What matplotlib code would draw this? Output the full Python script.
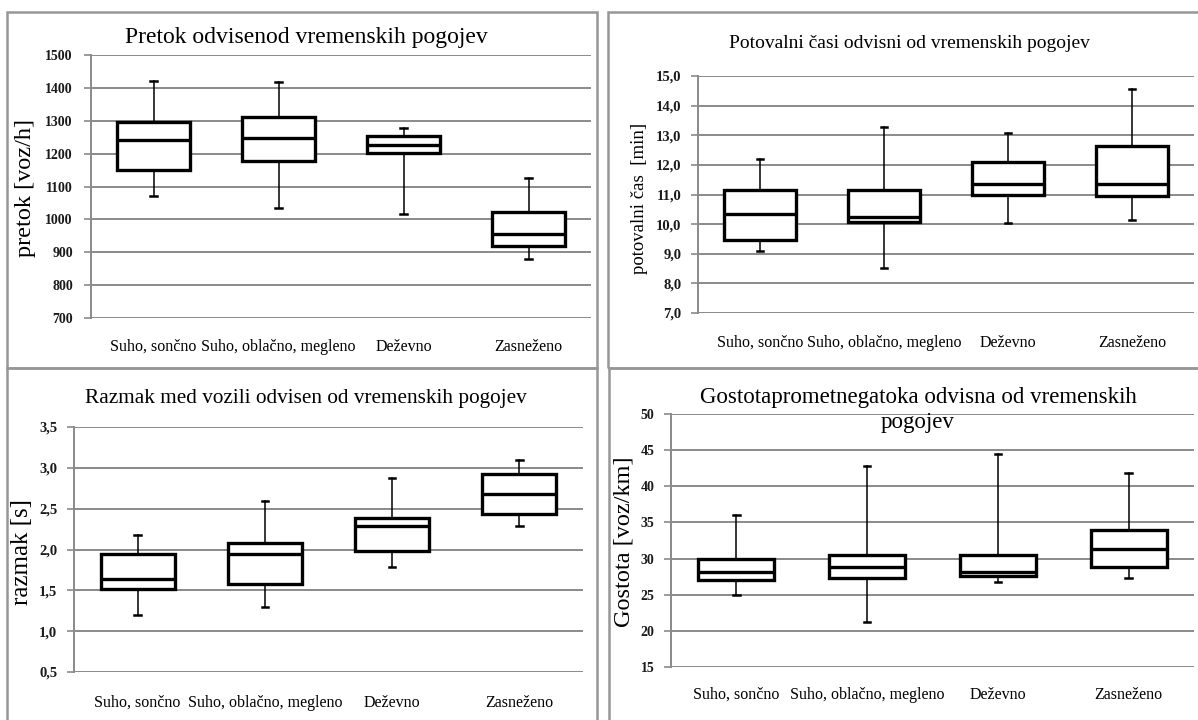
import matplotlib
matplotlib.use("Agg")
import matplotlib.pyplot as plt
from matplotlib.patches import Rectangle

plt.rcParams['font.family'] = ['Liberation Serif', 'DejaVu Serif']

W, H = 1198, 720

categories = ["Suho, sončno", "Suho, oblačno, megleno", "Deževno", "Zasneženo"]

# Pretok [voz/h]
flow_low = [1071, 1034, 1016, 879]
flow_q1 = [1151, 1179, 1201, 920]
flow_med = [1240, 1249, 1227, 955]
flow_q3 = [1296, 1311, 1255, 1021]
flow_high = [1421, 1417, 1279, 1127]
flow_ticks = [700, 800, 900, 1000, 1100, 1200, 1300, 1400, 1500]
flow_ticklabels = ["700", "800", "900", "1000", "1100", "1200", "1300", "1400", "1500"]

# Potovalni čas [min]
time_low = [9.08, 8.52, 10.03, 10.13]
time_q1 = [9.47, 10.06, 10.99, 10.96]
time_med = [10.34, 10.24, 11.35, 11.35]
time_q3 = [11.16, 11.16, 12.09, 12.65]
time_high = [12.20, 13.29, 13.07, 14.55]
time_ticks = [7, 8, 9, 10, 11, 12, 13, 14, 15]
time_ticklabels = ["7,0", "8,0", "9,0", "10,0", "11,0", "12,0", "13,0", "14,0", "15,0"]

# Razmak [s]
gap_low = [1.20, 1.29, 1.79, 2.29]
gap_q1 = [1.52, 1.58, 1.98, 2.43]
gap_med = [1.64, 1.94, 2.29, 2.68]
gap_q3 = [1.94, 2.08, 2.38, 2.93]
gap_high = [2.18, 2.59, 2.88, 3.09]
gap_ticks = [0.5, 1.0, 1.5, 2.0, 2.5, 3.0, 3.5]
gap_ticklabels = ["0,5", "1,0", "1,5", "2,0", "2,5", "3,0", "3,5"]

# Gostota [voz/km]
dens_low = [25.0, 21.2, 26.8, 27.3]
dens_q1 = [27.0, 27.3, 27.6, 28.9]
dens_med = [28.2, 28.8, 28.1, 31.3]
dens_q3 = [30.0, 30.5, 30.5, 34.0]
dens_high = [36.0, 42.8, 44.4, 41.8]
dens_ticks = [15, 20, 25, 30, 35, 40, 45, 50]
dens_ticklabels = ["15", "20", "25", "30", "35", "40", "45", "50"]

GRID = "#8a8a8a"
BORDER = "#979797"

fig = plt.figure(figsize=(W / 100, H / 100), dpi=100)


def fx(x):
    return x / W


def fy(y):
    return 1 - y / H


def panel_border(x0, y0, x1, y1):
    fig.patches.append(Rectangle((fx(x0), fy(y1)), fx(x1) - fx(x0), fy(y0) - fy(y1),
                                 transform=fig.transFigure, fill=False,
                                 edgecolor=BORDER, lw=1.8))


def box_axes(rect, low, q1, med, q3, high, ticks, ticklabels, ylabel, ylabel_size,
             ylabel_x, ylabel_y, tick_size, cat_y, cat_size, tick_pad):
    x0, y0, x1, y1 = rect
    ax = fig.add_axes([fx(x0), fy(y1), fx(x1) - fx(x0), fy(y0) - fy(y1)])
    stats = []
    for lo, a, m, b, hi in zip(low, q1, med, q3, high):
        stats.append(dict(whislo=lo, q1=a, med=m, q3=b, whishi=hi, fliers=[]))
    ax.bxp(stats, positions=[1, 2, 3, 4], widths=0.58, capwidths=0.05,
           showfliers=False, patch_artist=True,
           boxprops=dict(facecolor="white", edgecolor="black", linewidth=2.4),
           medianprops=dict(color="black", linewidth=2.4),
           whiskerprops=dict(color="black", linewidth=1.1),
           capprops=dict(color="black", linewidth=1.8), zorder=3)
    ax.set_xlim(0.5, 4.5)
    ax.set_ylim(ticks[0], ticks[-1])
    ax.set_yticks(ticks)
    ax.set_yticklabels(ticklabels, fontsize=tick_size, fontweight="bold")
    ax.set_xticks([])
    ax.grid(axis="y", color=GRID, lw=1.4, zorder=0)
    ax.set_axisbelow(True)
    for s in ("top", "right", "bottom"):
        ax.spines[s].set_visible(False)
    ax.spines["left"].set_color(GRID)
    ax.spines["left"].set_linewidth(1.4)
    ax.tick_params(axis="y", length=5, width=1.2, color=GRID, pad=tick_pad,
                   labelcolor="#1a1a1a")
    # category labels under each box
    for i, c in enumerate(categories):
        xd = x0 + (x1 - x0) * (i + 0.5) / 4
        fig.text(fx(xd), fy(cat_y), c, ha="center", va="center", fontsize=cat_size)
    fig.text(fx(ylabel_x), fy(ylabel_y), ylabel, rotation=90, ha="center", va="center",
             fontsize=ylabel_size)
    return ax


# panel frames
panel_border(7, 12, 597, 368)
panel_border(608, 12, 1202, 368)
panel_border(7, 368, 597, 724)
panel_border(609, 368, 1202, 724)

# top left: flow
box_axes((91, 55, 591, 318), flow_low, flow_q1, flow_med, flow_q3, flow_high,
         flow_ticks, flow_ticklabels, "pretok [voz/h]", 17.5, 25, 188, 10, 347, 11.5, 8)
fig.text(fx(306), fy(38), "Pretok odvisenod vremenskih pogojev", ha="center", va="center",
         fontsize=17)

# top right: travel time
box_axes((698, 76, 1194, 313), time_low, time_q1, time_med, time_q3, time_high,
         time_ticks, time_ticklabels, "potovalni čas  [min]", 13.5, 640, 198, 10.5, 343, 11.5, 7)
fig.text(fx(909), fy(43), "Potovalni časi odvisni od vremenskih pogojev", ha="center",
         va="center", fontsize=14)

# bottom left: headway
box_axes((74, 427, 583, 672), gap_low, gap_q1, gap_med, gap_q3, gap_high,
         gap_ticks, gap_ticklabels, "razmak [s]", 18, 22, 552, 10.5, 703, 11.5, 7)
fig.text(fx(306), fy(398), "Razmak med vozili odvisen od vremenskih pogojev", ha="center",
         va="center", fontsize=15.3)

# bottom right: density
box_axes((671, 414, 1194, 667), dens_low, dens_q1, dens_med, dens_q3, dens_high,
         dens_ticks, dens_ticklabels, "Gostota [voz/km]", 17.5, 624, 542, 10, 695, 11.5, 7)
fig.text(fx(918), fy(410), "Gostotaprometnegatoka odvisna od vremenskih\npogojev",
         ha="center", va="center", fontsize=16.5, linespacing=1.3)

fig.savefig("out.png", dpi=100)
